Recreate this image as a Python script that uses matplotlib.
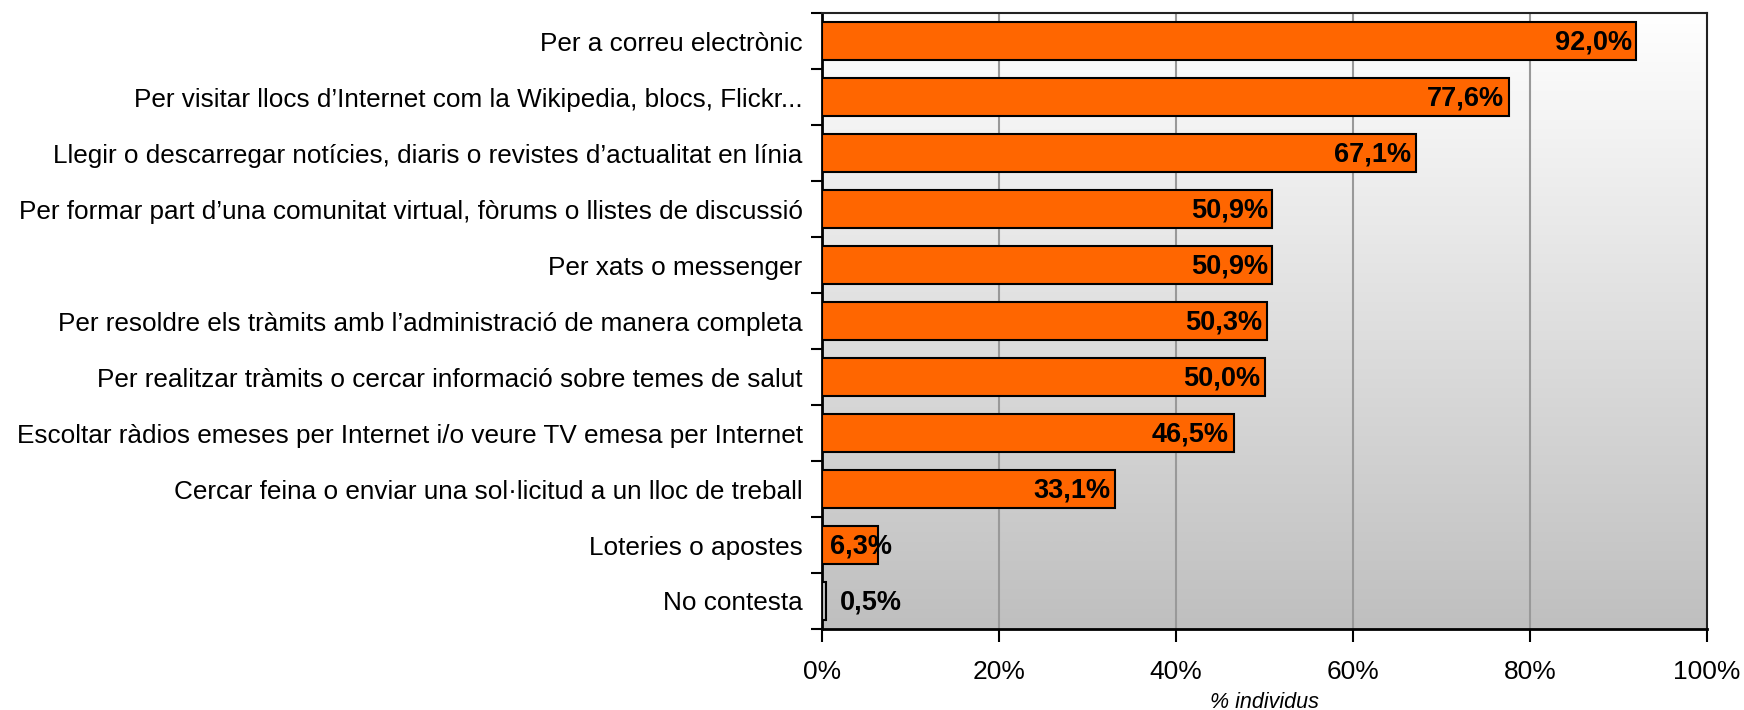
import numpy as np
import matplotlib
matplotlib.use("Agg")
import matplotlib.pyplot as plt
from matplotlib.colors import LinearSegmentedColormap

categories = [
    "Per a correu electrònic",
    "Per visitar llocs d\u2019Internet com la Wikipedia, blocs, Flickr...",
    "Llegir o descarregar notícies, diaris o revistes d\u2019actualitat en línia",
    "Per formar part d\u2019una comunitat virtual, fòrums o llistes de discussió",
    "Per xats o messenger",
    "Per resoldre els tràmits amb l\u2019administració de manera completa",
    "Per realitzar tràmits o cercar informació sobre temes de salut",
    "Escoltar ràdios emeses per Internet i/o veure TV emesa per Internet",
    "Cercar feina o enviar una sol·licitud a un lloc de treball",
    "Loteries o apostes",
    "No contesta",
]
values = [92.0, 77.6, 67.1, 50.9, 50.9, 50.3, 50.0, 46.5, 33.1, 6.3, 0.5]
xticks = [0, 20, 40, 60, 80, 100]
xtick_labels = ["0%", "20%", "40%", "60%", "80%", "100%"]
xlabel = "% individus"

plt.rcParams['font.family'] = ['Liberation Sans', 'DejaVu Sans']

fig = plt.figure(figsize=(17.44, 7.10), dpi=100)
ax = fig.add_axes([822/1744, 1-629/710, (1707-822)/1744, (629-13)/710])

# gradient background
cmap = LinearSegmentedColormap.from_list("bg", ["#ffffff", "#bfbfbf"])
grad = np.linspace(0, 1, 256).reshape(-1, 1)
ax.imshow(grad, aspect='auto', cmap=cmap, extent=[0, 100, len(categories)-0.5, -0.5],
          zorder=0, interpolation='bicubic')

n = len(categories)
y = np.arange(n)
colors = ["#FF6600"] * (n - 1) + ["#C4C4C4"]
ax.barh(y, values, height=0.68, color=colors, edgecolor="black", linewidth=1.5, zorder=3)

ax.set_xlim(0, 100)
ax.set_ylim(n - 0.5, -0.5)

for xv in xticks[1:-1]:
    ax.axvline(xv, color="#999999", linewidth=1.5, zorder=1)

for i, v in enumerate(values):
    s = f"{v:.1f}%".replace(".", ",")
    if v >= 10:
        ax.text(v - 0.5, i + 0.03, s, ha="right", va="center", fontsize=19.5, fontweight="bold", zorder=4)
    elif v >= 2:
        ax.text(0.9, i + 0.03, s, ha="left", va="center", fontsize=19.5, fontweight="bold", zorder=4)
    else:
        ax.text(v + 1.5, i + 0.03, s, ha="left", va="center", fontsize=19.5, fontweight="bold", zorder=4)

ax.set_yticks(y)
ax.set_yticklabels(categories, fontsize=18.8)
ax.set_yticks(np.arange(n + 1) - 0.5, minor=True)
ax.tick_params(axis='y', which='major', length=0, pad=14)
ax.tick_params(axis='y', which='minor', length=8, width=1.5, direction='out')

ax.set_xticks(xticks)
ax.set_xticklabels(xtick_labels, fontsize=19)
ax.tick_params(axis='x', which='major', length=9, width=1.5, direction='out', pad=13)

ax.set_xlabel(xlabel, fontsize=15.5, style='italic', labelpad=6)

for side in ["left", "bottom"]:
    ax.spines[side].set_linewidth(2)
for side in ["top", "right"]:
    ax.spines[side].set_linewidth(1.5)
    ax.spines[side].set_color("#222222")

fig.savefig("out.png", dpi=100)
